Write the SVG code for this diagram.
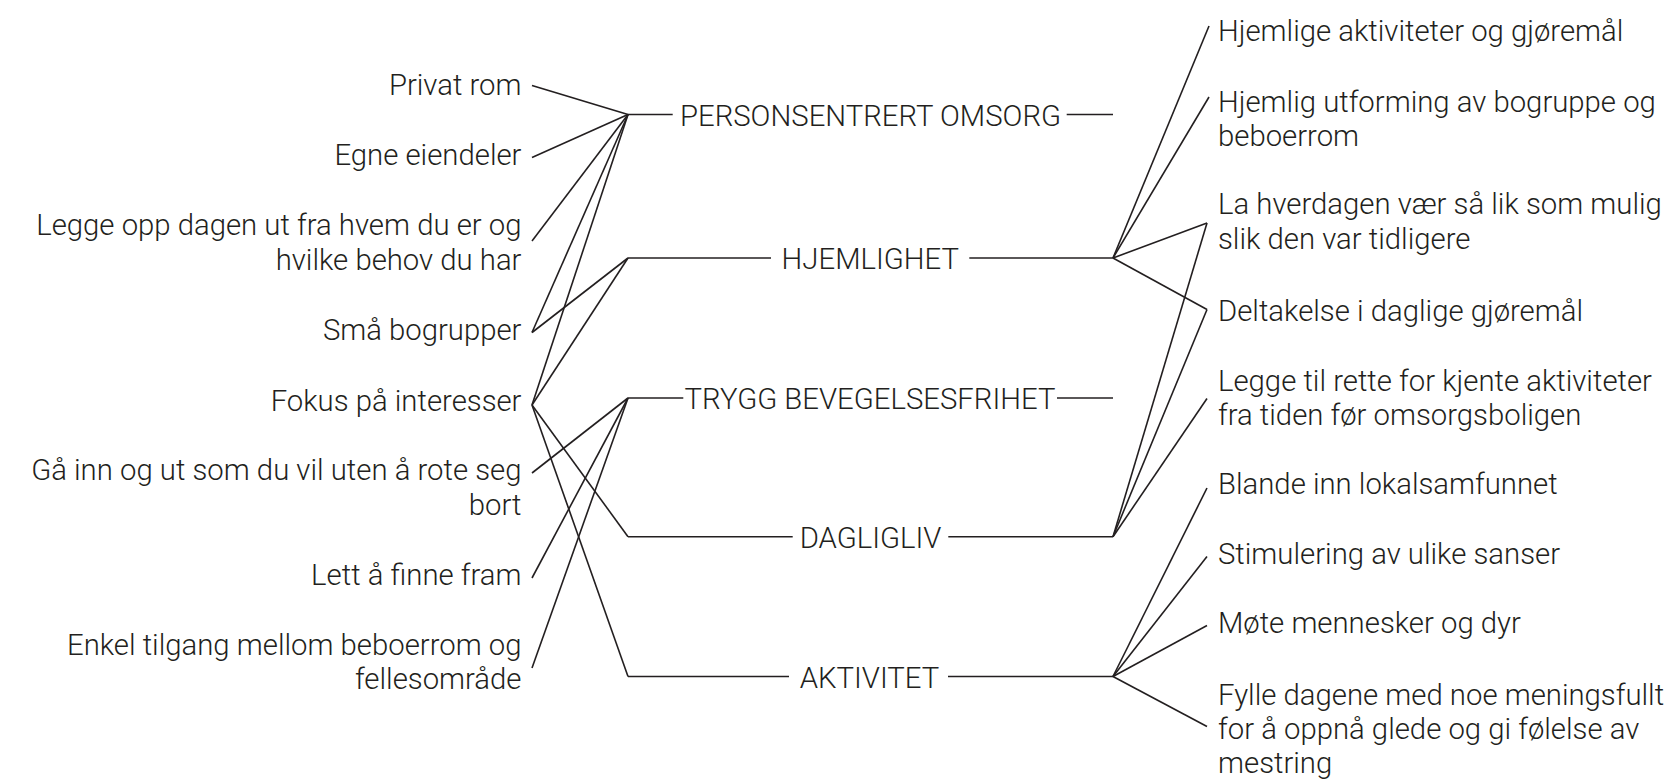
<svg xmlns="http://www.w3.org/2000/svg" width="1678" height="784" viewBox="0 0 1678 784">
<style>
text{font-family:Roboto,"Liberation Sans",sans-serif;font-size:29.3px;font-weight:300;fill:#231f20}
.l{text-anchor:end}
.c{text-anchor:middle}
#connectors line{stroke:#231f20;stroke-width:1.6;fill:none}
</style>
<rect width="1678" height="784" fill="#fff"/>
<g id="connectors">
<line x1="532" y1="85.5" x2="628" y2="114.5"/>
<line x1="532" y1="157.5" x2="628" y2="114.5"/>
<line x1="532" y1="241" x2="628" y2="114.5"/>
<line x1="532" y1="332.5" x2="628" y2="114.5"/>
<line x1="532" y1="332.5" x2="628" y2="258"/>
<line x1="532" y1="405" x2="628" y2="114.5"/>
<line x1="532" y1="405" x2="628" y2="258"/>
<line x1="532" y1="405" x2="628" y2="536.7"/>
<line x1="532" y1="405" x2="628" y2="676.5"/>
<line x1="532" y1="473" x2="628" y2="398"/>
<line x1="532" y1="578" x2="628" y2="398"/>
<line x1="532" y1="668" x2="628" y2="398"/>
<line x1="628" y1="114.5" x2="672.7" y2="114.5"/>
<line x1="1066.7" y1="114.5" x2="1113" y2="114.5"/>
<line x1="628" y1="258" x2="771" y2="258"/>
<line x1="969.3" y1="258" x2="1113" y2="258"/>
<line x1="628" y1="398" x2="683.3" y2="398"/>
<line x1="1057" y1="398" x2="1113" y2="398"/>
<line x1="628" y1="536.7" x2="792.7" y2="536.7"/>
<line x1="948.3" y1="536.7" x2="1113" y2="536.7"/>
<line x1="628" y1="676.5" x2="789" y2="676.5"/>
<line x1="948" y1="676.5" x2="1113" y2="676.5"/>
<line x1="1113" y1="258" x2="1209" y2="26"/>
<line x1="1113" y1="258" x2="1209" y2="97"/>
<line x1="1113" y1="258" x2="1207" y2="223"/>
<line x1="1113" y1="258" x2="1207" y2="309.5"/>
<line x1="1113" y1="536.7" x2="1207" y2="223"/>
<line x1="1113" y1="536.7" x2="1207" y2="309.5"/>
<line x1="1113" y1="536.7" x2="1207" y2="398.5"/>
<line x1="1113" y1="676.5" x2="1207" y2="488"/>
<line x1="1113" y1="676.5" x2="1207" y2="556.5"/>
<line x1="1113" y1="676.5" x2="1207" y2="625.5"/>
<line x1="1113" y1="676.5" x2="1207" y2="726.5"/>
</g>
<g id="n-privat"><text class="l" x="521.5" y="95">Privat rom</text></g>
<g id="n-egne"><text class="l" x="521.5" y="165">Egne eiendeler</text></g>
<g id="n-legge"><text class="l" x="521.5" y="235">Legge opp dagen ut fra hvem du er og</text><text class="l" x="521.5" y="269.5">hvilke behov du har</text></g>
<g id="n-sma"><text class="l" x="521.5" y="340">Små bogrupper</text></g>
<g id="n-fokus"><text class="l" x="521.5" y="410.5">Fokus på interesser</text></g>
<g id="n-ga"><text class="l" x="521.5" y="480">Gå inn og ut som du vil uten å rote seg</text><text class="l" x="521.5" y="514.5">bort</text></g>
<g id="n-lett"><text class="l" x="521.5" y="585">Lett å finne fram</text></g>
<g id="n-enkel"><text class="l" x="521.5" y="655">Enkel tilgang mellom beboerrom og</text><text class="l" x="521.5" y="689">fellesområde</text></g>
<g id="n-person"><text class="c" x="870.5" y="125.5">PERSONSENTRERT OMSORG</text></g>
<g id="n-hjem"><text class="c" x="870.3" y="269">HJEMLIGHET</text></g>
<g id="n-trygg"><text class="c" x="870" y="409">TRYGG BEVEGELSESFRIHET</text></g>
<g id="n-dagl"><text class="c" x="870.5" y="547.7">DAGLIGLIV</text></g>
<g id="n-akt"><text class="c" x="869.5" y="687.5">AKTIVITET</text></g>
<g id="n-r1"><text x="1218" y="40.7">Hjemlige aktiviteter og gjøremål</text></g>
<g id="n-r2"><text x="1218" y="111.5">Hjemlig utforming av bogruppe og</text><text x="1218" y="145.7">beboerrom</text></g>
<g id="n-r3"><text x="1218" y="214">La hverdagen vær så lik som mulig</text><text x="1218" y="248.5">slik den var tidligere</text></g>
<g id="n-r4"><text x="1218" y="321">Deltakelse i daglige gjøremål</text></g>
<g id="n-r5"><text x="1218" y="390.5">Legge til rette for kjente aktiviteter</text><text x="1218" y="425">fra tiden før omsorgsboligen</text></g>
<g id="n-r6"><text x="1218" y="494">Blande inn lokalsamfunnet</text></g>
<g id="n-r7"><text x="1218" y="564">Stimulering av ulike sanser</text></g>
<g id="n-r8"><text x="1218" y="633">Møte mennesker og dyr</text></g>
<g id="n-r9"><text x="1218" y="705">Fylle dagene med noe meningsfullt</text><text x="1218" y="738.5">for å oppnå glede og gi følelse av</text><text x="1218" y="772.5">mestring</text></g>
</svg>
